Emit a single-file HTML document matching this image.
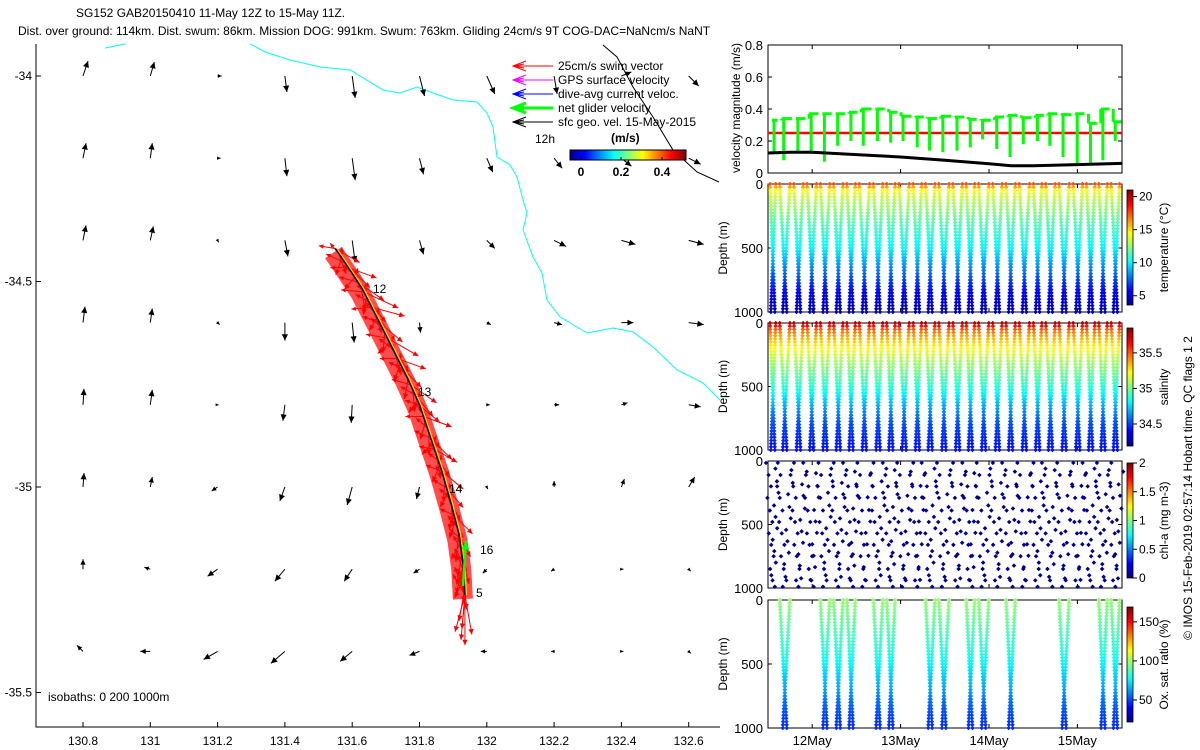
<!DOCTYPE html>
<html><head><meta charset="utf-8"><style>
html,body{margin:0;padding:0;background:#fff;}
svg{display:block;font-family:"Liberation Sans",Arial,sans-serif;}
</style></head><body>
<svg id="fig" width="1200" height="750" viewBox="0 0 1200 750" xmlns="http://www.w3.org/2000/svg">
<defs>
<linearGradient id="jetH" x1="0" y1="0" x2="1" y2="0">
<stop offset="0" stop-color="#00008f"/><stop offset="0.125" stop-color="#0000ff"/><stop offset="0.375" stop-color="#00ffff"/><stop offset="0.625" stop-color="#ffff00"/><stop offset="0.875" stop-color="#ff0000"/><stop offset="1" stop-color="#800000"/>
</linearGradient>
<linearGradient id="jetV" x1="0" y1="1" x2="0" y2="0">
<stop offset="0" stop-color="#00008f"/><stop offset="0.125" stop-color="#0000ff"/><stop offset="0.375" stop-color="#00ffff"/><stop offset="0.625" stop-color="#ffff00"/><stop offset="0.875" stop-color="#ff0000"/><stop offset="1" stop-color="#800000"/>
</linearGradient>
</defs>
<g font-size="12">
<text x="76" y="17">SG152 GAB20150410 11-May 12Z to 15-May 11Z.</text>
<text x="18" y="35">Dist. over ground: 114km. Dist. swum: 86km. Mission DOG: 991km. Swum: 763km. Gliding 24cm/s 9T COG-DAC=NaNcm/s NaNT</text>
</g>
<g id="map"></g>
<g id="right"></g>
</svg>
<script>
// ---------- data ----------
const gridLons = [130.8,131,131.2,131.4,131.6,131.8,132,132.2,132.4,132.6];
const gridLats = [-34,-34.2,-34.4,-34.6,-34.8,-35,-35.2,-35.4];
const geoU = [
 [0.05,0.04,0.04,0.02,0.03,0.05,0.08,0.03,0.10,0.10],
 [0.03,0.02,0.03,0.02,0.03,0.04,0.06,0.08,0.10,0.12],
 [0.03,0.03,0.01,0.03,0.03,0.04,0.08,0.12,0.14,0.15],
 [0.02,0.02,0.02,0.00,0.02,0.01,0.04,0.08,0.12,0.15],
 [0.01,0.02,0.01,-0.02,-0.01,0.02,0.03,0.05,0.06,0.12],
 [0.01,0.02,-0.06,-0.05,-0.05,-0.03,0.01,0.00,0.03,0.06],
 [0.00,-0.06,-0.10,-0.10,-0.08,-0.06,-0.04,-0.03,0.02,0.02],
 [-0.06,-0.10,-0.14,-0.14,-0.12,-0.10,-0.06,-0.03,0.02,0.02]];
const geoV = [
 [0.15,0.14,0.00,-0.16,-0.22,-0.20,-0.18,-0.18,0.04,-0.10],
 [0.15,0.15,0.00,-0.18,-0.22,-0.16,-0.14,-0.10,-0.08,-0.06],
 [0.15,0.14,-0.02,-0.16,-0.22,-0.14,-0.08,-0.06,-0.04,-0.04],
 [0.16,0.14,-0.02,-0.18,-0.20,-0.10,-0.02,-0.02,0.00,-0.02],
 [0.16,0.15,0.00,-0.16,-0.18,-0.08,0.00,0.00,0.02,-0.02],
 [0.14,0.10,-0.04,-0.14,-0.18,-0.12,-0.02,0.06,0.08,0.10],
 [0.10,0.02,-0.07,-0.12,-0.12,-0.04,-0.04,-0.02,0.00,-0.02],
 [0.06,0.00,-0.08,-0.12,-0.10,-0.04,0.00,0.00,0.00,-0.02]];
const latTicks = [-34,-34.5,-35,-35.5];
const lonTicks = [130.8,131,131.2,131.4,131.6,131.8,132,132.2,132.4,132.6];
const trackLon = [131.55,131.585,131.63,131.675,131.72,131.765,131.80,131.83,131.865,131.895,131.918,131.93,131.935];
const trackLat = [-34.42,-34.462,-34.518,-34.59,-34.663,-34.736,-34.80,-34.873,-34.958,-35.044,-35.117,-35.19,-35.263];
const swimAng = [30,70,110,45,20,60,130,35,80,25,100,50,15,70,120,40,60,95,30,140,55,75,20,110,45,65,100,35,85,50,125,40,70,20,105,60,90,45,135,30,80,55,115,40,75,95,50,120,65,85,100,45,110,70,95,60,120,80,100,75,105,90,115,85,100,95,80,95,105,90];
const swimLen = [28,22,18,35,30,20,16,32,24,38,18,26,34,22,15,30,25,20,36,16,28,22,30,18,26,24,20,32,22,28,15,26,20,30,18,24,22,30,15,26,24,20,18,28,22,20,26,16,24,22,20,26,18,24,30,22,18,26,30,24,28,30,22,26,32,34,40,45,38,50];
const dayLabels = ['12','13','14','16','5'];
const diveStart = [11.50,11.61,11.77,11.92,12.07,12.22,12.37,12.51,12.67,12.82,12.96,13.12,13.26,13.41,13.57,13.72,13.86,14.02,14.17,14.32,14.48,14.62,14.77,14.93,15.08,15.22,15.36,15.50];
const netSpeed = [0.33,0.34,0.34,0.37,0.37,0.37,0.38,0.40,0.40,0.38,0.355,0.35,0.34,0.355,0.35,0.335,0.33,0.35,0.36,0.345,0.36,0.37,0.365,0.37,0.31,0.40,0.32];
const netDrop = [0.12,0.08,0.13,0.12,0.07,0.17,0.20,0.17,0.20,0.19,0.20,0.16,0.14,0.13,0.14,0.16,0.21,0.15,0.10,0.18,0.20,0.17,0.10,0.06,0.06,0.08,0.20];
const swimSpeed = 0.25;
const sfcT = [11.5,11.75,12,12.5,13,13.5,14,14.25,14.5,15,15.5];
const sfcV = [0.125,0.13,0.13,0.115,0.10,0.08,0.058,0.045,0.045,0.052,0.06];
const profDepth = [0,50,100,200,300,400,500,600,700,800,900,1000];
const profTemp = [17.5,14.5,13.5,12.5,11.5,10.8,10,8.8,7.5,6.3,5.2,4.5];
const profSal = [35.75,35.5,35.38,35.22,35.08,34.98,34.88,34.75,34.62,34.52,34.46,34.42];
const profOx = [98,96,94,90,86,82,76,70,64,56,50,46];
const oxFlag = [0,1,0,0,1,1,1,0,1,1,0,0,1,1,0,1,1,0,1,0,0,0,1,0,0,1,1];
const chlDown = [15,110,200,290,390,480,570,660,750,850,940,990];
const chlUp = [60,160,250,350,440,530,620,710,800,900];
const velTicks = [0,0.2,0.4,0.6,0.8];
const depthTicks = [0,500,1000];
const dateTicks = [12,13,14,15];
const dateLabels = ['12May','13May','14May','15May'];
const tempTicks = [5,10,15,20], salTicks=[34.5,35,35.5], chlTicks=[0,0.5,1,1.5,2], oxTicks=[50,100,150];

// ---------- helpers ----------
const NS='http://www.w3.org/2000/svg';
function el(tag,attrs,parent){const e=document.createElementNS(NS,tag);for(const k in attrs)e.setAttribute(k,attrs[k]);parent.appendChild(e);return e;}
function txt(str,x,y,attrs,parent){const t=el('text',Object.assign({x:x,y:y,'font-size':12},attrs),parent);t.textContent=str;return t;}
function jet(v){v=Math.max(0,Math.min(1,v));const c=x=>Math.round(255*Math.max(0,Math.min(1,x)));return `rgb(${c(1.5-Math.abs(4*v-3))},${c(1.5-Math.abs(4*v-2))},${c(1.5-Math.abs(4*v-1))})`;}
function interp(xs,ys,x){for(let i=1;i<xs.length;i++){if(x<=xs[i]){const f=(x-xs[i-1])/(xs[i]-xs[i-1]);return ys[i-1]+f*(ys[i]-ys[i-1]);}}return ys[ys.length-1];}
function arrow(g,x1,y1,x2,y2,col,w,hs){
  el('line',{x1:x1,y1:y1,x2:x2,y2:y2,stroke:col,'stroke-width':w},g);
  const ang=Math.atan2(y2-y1,x2-x1);
  const p=[[x2,y2],[x2-hs*Math.cos(ang-0.45),y2-hs*Math.sin(ang-0.45)],[x2-hs*Math.cos(ang+0.45),y2-hs*Math.sin(ang+0.45)]];
  el('polygon',{points:p.map(q=>q.join(',')).join(' '),fill:col},g);
}

// ---------- map ----------
const map=document.getElementById('map');
const lonX=lon=>83+(lon-130.8)*336.5;
const latY=lat=>76+(-34-lat)*411;
const iso0=el('polyline',{points:'105,48 115,46 125,44',fill:'none',stroke:'#00ffff','stroke-width':1},map);


const iso1=el('polyline',{points:'250,44 265,52 290,60 320,67 350,70 383,90 400,93 417,87 433,93 453,100 477,102 487,113 493,127 497,157 510,165 517,177 523,200 527,213 523,230 533,257 542,273 547,300 560,317 587,333 613,328 633,332 653,347 677,370 703,383 720,400',fill:'none',stroke:'#00ffff','stroke-width':1},map);


const iso2=el('polyline',{points:'603,45 617,57 633,87 653,117 673,150 697,172 719,182',fill:'none',stroke:'#000','stroke-width':1},map);


const geoG=el('g',{},map);


gridLats.forEach((lat,r)=>gridLons.forEach((lon,c)=>{
  const x=lonX(lon),y=latY(lat),dx=geoU[r][c]*100,dy=-geoV[r][c]*100;
  const g=el('g',{},geoG);
  
  
  arrow(g,x,y,x+dx,y+dy,'#000',1,Math.min(7,3+Math.hypot(dx,dy)*0.3));
}));
const tpts=trackLon.map((lo,i)=>[lonX(lo),latY(trackLat[i])]);
const cum=[0];for(let i=1;i<tpts.length;i++)cum.push(cum[i-1]+Math.hypot(tpts[i][0]-tpts[i-1][0],tpts[i][1]-tpts[i-1][1]));
function along(t){const L=t*cum[cum.length-1];for(let i=1;i<cum.length;i++){if(L<=cum[i]){const f=(L-cum[i-1])/(cum[i]-cum[i-1]);return [tpts[i-1][0]+f*(tpts[i][0]-tpts[i-1][0]),tpts[i-1][1]+f*(tpts[i][1]-tpts[i-1][1])];}}return tpts[tpts.length-1];}
const swimG=el('g',{},map);


const band=el('polyline',{points:tpts.map(p=>(p[0]-2)+','+(p[1]+4)).join(' '),fill:'none',stroke:'#ff0000','stroke-width':20,'stroke-opacity':0.7,'stroke-linejoin':'round'},swimG);


const nS=swimAng.length;
for(let i=0;i<nS;i++){
  const [x,y]=along(Math.min(1,i/(nS-5)));
  const a=swimAng[i]*Math.PI/180;
  const g=el('g',{},swimG);
  
  
  arrow(g,x,y,x+swimLen[i]*Math.cos(a),y+swimLen[i]*Math.sin(a),'#ff0000',1,6);
  const b=(swimAng[i]+160)*Math.PI/180;
  const g2=el('g',{},swimG);
  
  
  arrow(g2,x,y,x+0.6*swimLen[i]*Math.cos(b),y+0.6*swimLen[i]*Math.sin(b),'#ff0000',1,5);
}
const tr2=el('polyline',{points:tpts.map(p=>(p[0]+1.5)+','+p[1]).join(' '),fill:'none',stroke:'#ffcc00','stroke-width':1.5},map);


const tr=el('polyline',{points:tpts.map(p=>p.join(',')).join(' '),fill:'none',stroke:'#000','stroke-width':1.5},map);


const gn=el('g',{},map);


arrow(gn,463,586,466,541,'#00ff00',2.5,9);
const dayPos=[[373,293],[418,396],[449,493],[480,554],[476,597]];
dayLabels.forEach((d,i)=>{const t=txt(d,dayPos[i][0],dayPos[i][1],{},map);});
const ax=el('polyline',{points:'36,44 36,727 720,727',fill:'none',stroke:'#000','stroke-width':1},map);


latTicks.forEach(l=>{const y=latY(l);el('line',{x1:36,y1:y,x2:41,y2:y,stroke:'#000'},map);const t=txt(String(l),32,y+4,{'text-anchor':'end'},map);});
lonTicks.forEach(l=>{const x=lonX(l);el('line',{x1:x,y1:727,x2:x,y2:722,stroke:'#000'},map);const t=txt(String(l),x,745,{'text-anchor':'middle'},map);});
const isoT=txt('isobaths: 0   200  1000m',48,701,{'xml:space':'preserve'},map);


const leg=el('g',{},map);


const legItems=[['25cm/s swim vector','#ff0000',1],['GPS surface velocity','#ff00ff',1],['dive-avg current veloc.','#0000ff',1],['net glider velocity','#00ff00',3],['sfc geo. vel. 15-May-2015','#000',1]];
legItems.forEach((it,i)=>{
  const y=66+i*14;const g=el('g',{},leg);
  
  
  el('line',{x1:513,y1:y,x2:553,y2:y,stroke:it[1],'stroke-width':it[2]},g);
  el('polyline',{points:`526,${y-5} 513,${y} 526,${y+5}`,fill:'none',stroke:it[1],'stroke-width':it[2]},g);
  el('polyline',{points:`524,${y-2} 513,${y} 524,${y+2}`,fill:'none',stroke:it[1],'stroke-width':1},g);
  txt(it[0],558,y+4,{},g);
});
txt('12h',535,143,{},leg);
txt('(m/s)',611,142,{'font-weight':'bold'},leg);
const hcb=el('rect',{x:570,y:150,width:116,height:10,fill:'url(#jetH)',stroke:'#000'},leg);


[[581,'0'],[621,'0.2'],[662,'0.4']].forEach(p=>{el('line',{x1:p[0],y1:160,x2:p[0],y2:157,stroke:'#000'},leg);txt(p[1],p[0],176,{'text-anchor':'middle','font-weight':'bold'},leg);});

// ---------- right panels ----------
const R=document.getElementById('right');
const X0=768,X1=1122;
const tX=t=>X0+(t-11.5)*88.4;
function frame(top,bot,name){
  const g=el('g',{},R);
  
  
  el('rect',{x:X0,y:top,width:X1-X0,height:bot-top,fill:'none',stroke:'#000'},g);
  dateTicks.forEach(d=>{const x=tX(d);el('line',{x1:x,y1:bot,x2:x,y2:bot-4,stroke:'#000'},g);el('line',{x1:x,y1:top,x2:x,y2:top+4,stroke:'#000'},g);});
  return g;
}
const vTop=45,vBot=173;const vY=v=>vBot-v/0.8*(vBot-vTop);
const pv=frame(vTop,vBot,'velocity-magnitude-panel');
velTicks.forEach(v=>{const y=vY(v);el('line',{x1:X0,y1:y,x2:X0+4,y2:y,stroke:'#000'},pv);el('line',{x1:X1,y1:y,x2:X1-4,y2:y,stroke:'#000'},pv);txt(String(v),763,y+5,{'text-anchor':'end','font-size':13},pv);});
const yl=txt('velocity magnitude (m/s)',0,0,{'text-anchor':'middle',transform:`translate(740,108) rotate(-90)`},pv);


const swl=el('line',{x1:X0,y1:vY(swimSpeed),x2:X1,y2:vY(swimSpeed),stroke:'#ff0000','stroke-width':2.5},pv);


let gp=[];
netSpeed.forEach((s,i)=>{const xa=tX(diveStart[i]),xb=tX(diveStart[i+1]);gp.push(`M${xa+4},${vY(s)} L${xb},${vY(s)} M${xa+6},${vY(s)} L${xa+6},${vY(netDrop[i])}`);if(i>0)gp.push(`M${xa+4},${vY(netSpeed[i-1])} L${xa+4},${vY(s)}`);});
const np=el('path',{d:gp.join(' '),fill:'none',stroke:'#00ff00','stroke-width':3},pv);


const sp=el('polyline',{points:sfcT.map((t,i)=>tX(t)+','+vY(sfcV[i])).join(' '),fill:'none',stroke:'#000','stroke-width':3},pv);



function profPanel(top,bot,name,prof,vmin,vmax,ticks,cbTop,cbBot,label,flags,mode){
  const g=frame(top,bot,name);
  const dY=d=>top+d/1000*(bot-top);
  depthTicks.forEach(d=>{const y=dY(d);el('line',{x1:X0,y1:y,x2:X0+4,y2:y,stroke:'#000'},g);el('line',{x1:X1,y1:y,x2:X1-4,y2:y,stroke:'#000'},g);txt(String(d),763,y+5,{'text-anchor':'end','font-size':13},g);});
  const dl=txt('Depth (m)',0,0,{'text-anchor':'middle',transform:`translate(727,${(top+bot)/2}) rotate(-90)`},g);
  
  
  const dots=el('g',{},g);
  
  
  const put=(x,d,v)=>{el('rect',{x:x-1.6,y:dY(d)-1.6,width:3.2,height:3.2,fill:jet((v-vmin)/(vmax-vmin)),transform:`rotate(45 ${x} ${dY(d)})`},dots);};
  for(let i=0;i<diveStart.length-1;i++){
    if(flags && !flags[i]) continue;
    const xa=tX(diveStart[i]),xb=tX(diveStart[i+1]),xm=(xa+xb)/2;
    if(mode==='chl'){
      chlDown.forEach((d,k)=>put(xa+(xm-xa)*d/1000+((k+i)%3-1)*2,d,0.05));
      chlUp.forEach((d,k)=>put(xm+(xb-xm)*(1-d/1000)+((k+i)%3-1)*2,d+(i%4)*12,0.05));
    } else {
      for(let d=0;d<=1000;d+=25){
        const v=interp(profDepth,prof,d);
        put(xa+(xm-xa)*d/1000+2,d,v);
        put(xm+(xb-xm)*(1-d/1000)-2,d,v);
      }
    }
  }
  const cy=v=>cbBot-(v-vmin)/(vmax-vmin)*(cbBot-cbTop);
  const cb=el('rect',{x:1127,y:cbTop,width:6,height:cbBot-cbTop,fill:'url(#jetV)',stroke:'#000','stroke-width':0.8},g);
  
  
  ticks.forEach(v=>{const y=cy(v);el('line',{x1:1133,y1:y,x2:1137,y2:y,stroke:'#000'},g);txt(String(v),1139,y+4,{'font-size':12},g);});
  const cl=txt(label,0,0,{'text-anchor':'middle',transform:`translate(1168,${(cbTop+cbBot)/2}) rotate(-90)`},g);
  
  
  return g;
}
profPanel(184,312,'temperature-panel',profTemp,3.6,21,tempTicks,190,305,'temperature (°C)',null,'');
profPanel(323,450,'salinity-panel',profSal,34.19,35.85,salTicks,328,446,'salinity',null,'');
profPanel(461,588,'chlorophyll-panel',null,0,2,chlTicks,463,578,'chl-a (mg m-3)',null,'chl');
const po=profPanel(600,728,'oxygen-panel',profOx,21.8,169,oxTicks,607,722,'Ox. sat. ratio (%)',oxFlag,'');
dateTicks.forEach((d,i)=>{const t=txt(dateLabels[i],tX(d),745,{'text-anchor':'middle','font-size':13},po);});
const cr=txt('© IMOS 15-Feb-2019 02:57:14 Hobart time. QC flags 1  2',0,0,{'text-anchor':'middle','xml:space':'preserve',transform:'translate(1192,488) rotate(-90)'},R);


</script>
</body></html>
